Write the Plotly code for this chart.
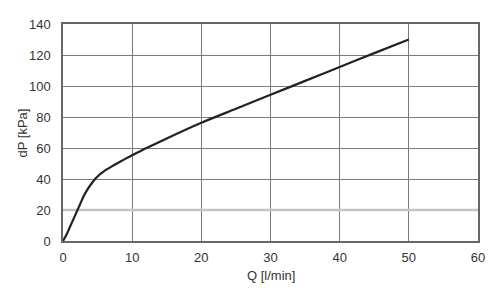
import plotly.graph_objects as go

q = [0, 0.5, 1, 1.5, 2, 2.5, 3, 3.5, 4, 4.5, 5, 5.5, 6, 7, 8, 9, 10, 12, 15, 20, 25, 30, 35, 40, 45, 50]
dp = [0, 4, 9, 14, 19, 24, 29, 33, 36.3, 39.2, 41.6, 43.6, 45.3, 48, 50.5, 53, 55.3, 59.8, 66.2, 76.3,
      85.3, 94.3, 103.3, 112.3, 121.2, 130]
x_ticks = [0, 10, 20, 30, 40, 50, 60]
y_ticks = [0, 20, 40, 60, 80, 100, 120, 140]
x_title = "Q [l/min]"
y_title = "dP [kPa]"

fig = go.Figure()
fig.add_trace(go.Scatter(x=q, y=dp, mode="lines",
                         line=dict(color="#222222", width=2.2, shape="spline", smoothing=0.8),
                         showlegend=False, hoverinfo="skip"))

fig.add_shape(type="line", xref="x", yref="y", x0=x_ticks[0], x1=x_ticks[-1], y0=y_ticks[1], y1=y_ticks[1],
              line=dict(color="#c4c4c4", width=2.5), layer="between")

font = dict(family="Liberation Sans, Arial, sans-serif", size=13, color="#333333")
fig.add_annotation(text=y_title, xref="paper", yref="paper", x=-0.0964, y=0.5,
                   xanchor="center", yanchor="middle", textangle=-90, showarrow=False, font=font)
fig.add_annotation(text=x_title, xref="paper", yref="paper", x=0.5, y=-0.161,
                   xanchor="center", yanchor="middle", showarrow=False, font=font)

fig.update_layout(
    width=500, height=297,
    margin=dict(l=63, r=22, t=24, b=56),
    paper_bgcolor="white", plot_bgcolor="white",
    font=font,
    xaxis=dict(range=[0, 60], tickvals=x_ticks, showgrid=True, gridcolor="#7a7a7a", gridwidth=1,
               zeroline=False, showline=True, linecolor="#666666", linewidth=1.5, mirror=True,
               ticks="", ticklabelstandoff=4),
    yaxis=dict(range=[0, 140], tickvals=y_ticks, showgrid=True, gridcolor="#7a7a7a", gridwidth=1,
               zeroline=False, showline=True, linecolor="#666666", linewidth=1.5, mirror=True,
               ticks="", ticklabelstandoff=8),
)
fig.write_html("out.html")
